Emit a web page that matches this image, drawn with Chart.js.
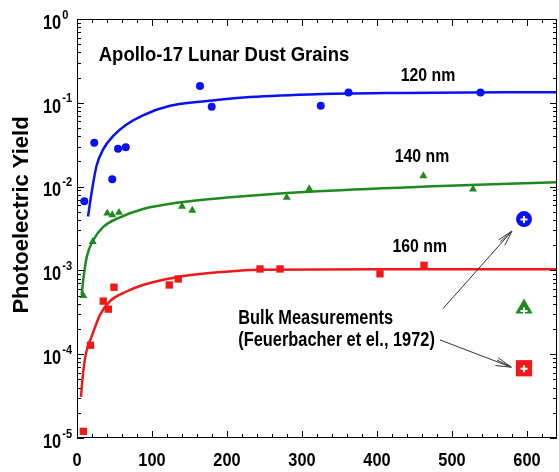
<!DOCTYPE html>
<html>
<head>
<meta charset="utf-8">
<script src="https://cdn.jsdelivr.net/npm/chart.js@4.4.0/dist/chart.umd.min.js"></script>
<style>
    body { margin: 0; background: #fff; }
    #wrap { width: 559px; height: 472px; }
</style>
</head>
<body>
<div id="wrap"><canvas id="MyChart" width="559" height="472"></canvas></div>
<script>
// wavelength (nm) -> measured grains
var Pts120X = [9.7, 23, 47, 54.7, 65, 164, 179.6, 325, 362, 538];
var Pts120Y = [0.0067, 0.0334, 0.0122, 0.0283, 0.0294, 0.159, 0.0898, 0.0923, 0.133, 0.133];
var Pts140X = [8.4, 21, 40.4, 47, 56, 140, 153.7, 279.6, 309.7, 461.8, 528];
var Pts140Y = [0.0005, 0.0022, 0.0048, 0.0046, 0.0049, 0.0058, 0.0052, 0.0074, 0.0094, 0.0134, 0.0093];
var Pts160X = [8.4, 18, 35, 41.8, 49.3, 123, 135, 244, 270.7, 404, 462.7];
var Pts160Y = [1.2e-5, 1.28e-4, 4.3e-4, 3.45e-4, 6.3e-4, 6.7e-4, 7.9e-4, 1.04e-3, 1.04e-3, 9.1e-4, 1.15e-3];

// fitted curves
var Fit120X = [14.7, 19.5, 26, 35, 48, 66, 88, 124, 164, 222, 309, 431, 640];
var Fit120Y = [0.0044, 0.0085, 0.0176, 0.028, 0.040, 0.055, 0.071, 0.092, 0.103, 0.116, 0.126, 0.131, 0.134];
var Fit140X = [6.2, 8.4, 13, 21.7, 35, 55, 88, 133, 200, 309, 475, 640];
var Fit140Y = [0.00051, 0.00078, 0.00145, 0.0023, 0.0033, 0.0042, 0.0054, 0.0064, 0.0074, 0.0087, 0.0101, 0.0113];
var Fit160X = [5.3, 7.6, 12, 19.5, 30.7, 44, 66, 88, 133, 177, 244, 400, 640];
var Fit160Y = [3.1e-5, 5.4e-5, 1.03e-4, 1.62e-4, 2.95e-4, 4.3e-4, 5.6e-4, 6.7e-4, 8.3e-4, 9.3e-4, 1.02e-3, 1.03e-3, 1.03e-3];

// bulk measurements (Feuerbacher 1972): 120, 140, 160 nm
var BulkX = [596, 596, 596];
var BulkY = [0.0041, 3.5e-4, 6.8e-5];

var xTicks = [0, 100, 200, 300, 400, 500, 600];
var yTickExp = [0, -1, -2, -3, -4, -5];

var BLUE = '#0a12f2', GREEN = '#1f8a1f', RED = '#f01818';

function xy(xs, ys) {
    var out = [];
    for (var i = 0; i < xs.length; i++) out.push({ x: xs[i], y: ys[i] });
    return out;
}

function sqText(ctx, txt, x, y, size, sx, align) {
    ctx.save();
    ctx.font = 'bold ' + size + 'px "Liberation Sans", Arial, sans-serif';
    ctx.textBaseline = 'middle';
    ctx.textAlign = 'left';
    var w = ctx.measureText(txt).width * sx;
    var x0 = x;
    if (align == 'center') x0 = x - w / 2;
    if (align == 'right') x0 = x - w;
    ctx.translate(x0, y);
    ctx.scale(sx, 1);
    ctx.fillStyle = '#000';
    ctx.fillText(txt, 0, 0);
    ctx.restore();
    return w;
}

function arrow(ctx, x1, y1, x2, y2) {
    var ang = Math.atan2(y2 - y1, x2 - x1);
    ctx.beginPath();
    ctx.moveTo(x1, y1);
    ctx.lineTo(x2, y2);
    [-0.26, 0.26, 0.1].forEach(function (d) {
        ctx.moveTo(x2, y2);
        ctx.lineTo(x2 - 16 * Math.cos(ang + d), y2 - 16 * Math.sin(ang + d));
    });
    ctx.stroke();
}

var framePlugin = {
    id: 'frame',
    afterDatasetsDraw: function (chart) {
        var ctx = chart.ctx;
        var meta = chart.getDatasetMeta(6);
        ctx.save();
        ctx.strokeStyle = '#fff';
        ctx.lineWidth = 2;
        meta.data.forEach(function (p, i) {
            var dy = (i == 1) ? 2 : 0;
            ctx.beginPath();
            ctx.moveTo(p.x - 3.5, p.y + 0.5 + dy); ctx.lineTo(p.x + 3.5, p.y + 0.5 + dy);
            ctx.moveTo(p.x, p.y - 3 + dy); ctx.lineTo(p.x, p.y + 4 + dy);
            ctx.stroke();
        });
        ctx.restore();
    },
    afterDraw: function (chart) {
        var ctx = chart.ctx, a = chart.chartArea;
        var xs = chart.scales.x, ys = chart.scales.y;
        ctx.save();
        ctx.strokeStyle = '#000';
        ctx.lineWidth = 1;
        ctx.strokeRect(a.left + 0.5, a.top + 0.5, a.right - a.left - 1, a.bottom - a.top - 1);

        // x ticks, inward, top and bottom
        ctx.beginPath();
        for (var v = 20; v < 640; v += 20) {
            var px = Math.round(xs.getPixelForValue(v)) + 0.5;
            var len = (v % 100 == 0) ? 7 : 4;
            ctx.moveTo(px, a.bottom); ctx.lineTo(px, a.bottom - len);
            ctx.moveTo(px, a.top); ctx.lineTo(px, a.top + len);
        }
        // y ticks, inward, left and right
        for (var e = -5; e < 0; e++) {
            for (var m = 1; m <= 9; m++) {
                var py = Math.round(ys.getPixelForValue(m * Math.pow(10, e))) + 0.5;
                var l2 = (m == 1) ? 7 : 4;
                ctx.moveTo(a.left, py); ctx.lineTo(a.left + l2, py);
                ctx.moveTo(a.right, py); ctx.lineTo(a.right - l2, py);
            }
        }
        ctx.stroke();

        // tick labels
        xTicks.forEach(function (t) {
            sqText(ctx, String(t), xs.getPixelForValue(t), 461, 19, 0.86, 'center');
        });
        yTickExp.forEach(function (e) {
            var py = ys.getPixelForValue(Math.pow(10, e));
            var w = sqText(ctx, '10', 43, py + 4, 21, 0.78, 'left');
            sqText(ctx, String(e), 43 + w + 1, py - 4, 13, 0.85, 'left');
        });

        // axis title
        ctx.save();
        ctx.translate(22, 215);
        ctx.rotate(-Math.PI / 2);
        ctx.font = 'bold 22px "Liberation Sans", Arial, sans-serif';
        ctx.textAlign = 'center';
        ctx.textBaseline = 'middle';
        ctx.fillStyle = '#000';
        ctx.fillText('Photoelectric Yield', 0, 0);
        ctx.restore();

        // annotations
        sqText(ctx, 'Apollo-17 Lunar Dust Grains', xs.getPixelForValue(29), ys.getPixelForValue(0.37), 21, 0.88, 'left');
        sqText(ctx, '120 nm', xs.getPixelForValue(468), ys.getPixelForValue(0.209), 18, 0.88, 'center');
        sqText(ctx, '140 nm', xs.getPixelForValue(460), ys.getPixelForValue(0.0227), 18, 0.88, 'center');
        sqText(ctx, '160 nm', xs.getPixelForValue(457), ys.getPixelForValue(0.0019), 18, 0.88, 'center');
        sqText(ctx, 'Bulk Measurements', xs.getPixelForValue(215), ys.getPixelForValue(2.63e-4), 19.5, 0.84, 'left');
        sqText(ctx, '(Feuerbacher et el., 1972)', xs.getPixelForValue(215), ys.getPixelForValue(1.44e-4), 19.5, 0.84, 'left');

        ctx.strokeStyle = '#333';
        ctx.lineWidth = 1;
        arrow(ctx, xs.getPixelForValue(488), ys.getPixelForValue(3.5e-4), xs.getPixelForValue(580), ys.getPixelForValue(2.95e-3));
        arrow(ctx, xs.getPixelForValue(484), ys.getPixelForValue(1.48e-4), xs.getPixelForValue(579), ys.getPixelForValue(7.0e-5));
        ctx.restore();
    }
};

function curve(xs, ys, color) {
    return {
        data: xy(xs, ys),
        showLine: true,
        borderColor: color,
        borderWidth: 2.5,
        pointRadius: 0,
        cubicInterpolationMode: 'monotone',
        fill: false
    };
}

function points(xs, ys, color, style, r) {
    return {
        data: xy(xs, ys),
        showLine: false,
        pointStyle: style,
        pointRadius: r,
        backgroundColor: color,
        borderColor: color,
        borderWidth: 0
    };
}

var ctx = document.getElementById('MyChart').getContext('2d');
var config = {
    type: 'scatter',
    data: {
        datasets: [
            curve(Fit120X, Fit120Y, BLUE),
            curve(Fit140X, Fit140Y, GREEN),
            curve(Fit160X, Fit160Y, RED),
            points(Pts120X, Pts120Y, BLUE, 'circle', 4),
            points(Pts140X, Pts140Y, GREEN, 'triangle', 4.6),
            points(Pts160X, Pts160Y, RED, 'rect', 5.2),
            {
                data: xy(BulkX, BulkY),
                showLine: false,
                pointStyle: ['circle', 'triangle', 'rect'],
                pointRadius: [8, 10, 11.5],
                backgroundColor: [BLUE, GREEN, RED],
                borderWidth: 0
            }
        ]
    },
    options: {
        responsive: false,
        animation: false,
        layout: { autoPadding: false, padding: { left: 77, right: 2, top: 19, bottom: 34 } },
        plugins: {
            legend: { display: false },
            tooltip: { enabled: false }
        },
        scales: {
            x: { type: 'linear', min: 0, max: 640, display: false },
            y: { type: 'logarithmic', min: 1e-5, max: 1, display: false }
        }
    },
    plugins: [framePlugin]
};
var lunarChart = new Chart(ctx, config);
</script>
</body>
</html>
